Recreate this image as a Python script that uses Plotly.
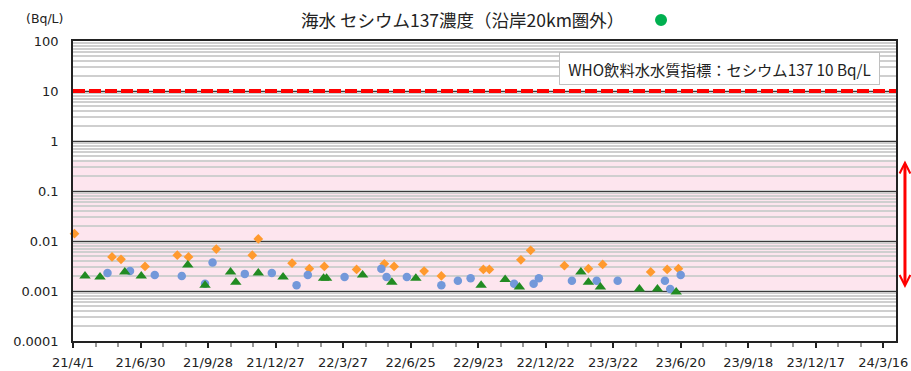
import plotly.graph_objects as go

# Seawater Cs-137 concentration outside the 20 km coastal zone (Bq/L)
orange_dates = ["2021-04-03", "2021-05-23", "2021-06-04", "2021-07-06", "2021-08-18",
                "2021-09-02", "2021-10-09", "2021-11-26", "2021-12-04", "2022-01-18",
                "2022-02-10", "2022-03-02", "2022-04-14", "2022-05-21", "2022-06-03",
                "2022-07-13", "2022-08-05", "2022-09-30", "2022-10-08", "2022-11-19",
                "2022-12-02", "2023-01-16", "2023-02-17", "2023-03-08", "2023-05-11",
                "2023-06-02", "2023-06-17"]
orange_vals = [0.014, 0.0048, 0.0043, 0.0031, 0.0052, 0.0048, 0.0069, 0.0052, 0.011, 0.0036,
               0.0028, 0.0031, 0.0027, 0.0035, 0.0031, 0.0025, 0.0020, 0.0027, 0.0027, 0.0042,
               0.0065, 0.0032, 0.0028, 0.0034, 0.0024, 0.0027, 0.0028]

blue_dates = ["2021-05-17", "2021-06-16", "2021-07-19", "2021-08-24", "2021-09-24",
              "2021-10-04", "2021-11-16", "2021-12-22", "2022-01-24", "2022-02-08",
              "2022-03-29", "2022-05-17", "2022-05-24", "2022-06-20", "2022-08-05",
              "2022-08-27", "2022-09-13", "2022-11-10", "2022-12-06", "2022-12-13",
              "2023-01-26", "2023-02-28", "2023-03-28", "2023-05-30", "2023-06-06",
              "2023-06-20"]
blue_vals = [0.0023, 0.0025, 0.0021, 0.0020, 0.0014, 0.0037, 0.0022, 0.0023, 0.0013, 0.0021,
             0.0019, 0.0028, 0.0019, 0.0019, 0.0013, 0.0016, 0.0018, 0.0014, 0.0014, 0.0018,
             0.0016, 0.0016, 0.0016, 0.0016, 0.0011, 0.0021]

green_dates = ["2021-04-17", "2021-05-07", "2021-06-09", "2021-07-01", "2021-09-01",
               "2021-09-24", "2021-10-28", "2021-11-04", "2021-12-04", "2022-01-06",
               "2022-03-01", "2022-03-05", "2022-04-22", "2022-05-31", "2022-07-02",
               "2022-09-27", "2022-10-29", "2022-11-17", "2023-02-07", "2023-02-17",
               "2023-03-05", "2023-04-26", "2023-05-20", "2023-06-14"]
green_vals = [0.0020, 0.0019, 0.0024, 0.0020, 0.0033, 0.0013, 0.0024, 0.0015, 0.0023, 0.0019,
              0.0018, 0.0018, 0.0021, 0.0015, 0.0018, 0.0013, 0.0017, 0.0012, 0.0024, 0.0015,
              0.0012, 0.0011, 0.0011, 0.00095]

y_tickvals = [0.0001, 0.001, 0.01, 0.1, 1, 10, 100]
y_ticktext = ["0.0001", "0.001", "0.01", "0.1", "1", "10", "100"]

WHO_LIMIT = 10
BAND_LOW, BAND_HIGH = 0.001, 0.42

TITLE = "海水 セシウム137濃度（沿岸20km圏外）"
LEGEND_TEXT = "WHO飲料水水質指標：セシウム137 10 Bq/L"

NUM_FONT = "DejaVu Sans"
JP_FONT = "Noto Sans CJK JP"
DAY_MS = 86400000

fig = go.Figure()

fig.add_trace(go.Scatter(x=orange_dates, y=orange_vals, mode="markers", cliponaxis=False,
                         marker=dict(symbol="diamond", size=7.5, color="#FF9A2E")))
fig.add_trace(go.Scatter(x=blue_dates, y=blue_vals, mode="markers", cliponaxis=False,
                         marker=dict(symbol="circle", size=8.5, color="#7398DA")))
fig.add_trace(go.Scatter(x=green_dates, y=green_vals, mode="markers", cliponaxis=False,
                         marker=dict(symbol="triangle-up", size=10, color="#228B22")))

# pink reference band, tinting the gridlines beneath it
fig.add_shape(type="rect", xref="paper", x0=0, x1=1, yref="y", y0=BAND_LOW, y1=BAND_HIGH,
              fillcolor="rgba(250,170,200,0.30)", line_width=0, layer="between")

# WHO guideline line
fig.add_shape(type="line", xref="paper", x0=0, x1=1, yref="y", y0=WHO_LIMIT, y1=WHO_LIMIT,
              line=dict(color="#FF0000", width=4, dash="12px,4px"))

# green dot beside the title
fig.add_shape(type="circle", xref="paper", yref="paper", xsizemode="pixel", ysizemode="pixel",
              xanchor=0.7145, yanchor=1.07, x0=-6, x1=6, y0=-6, y1=6,
              fillcolor="#00B050", line_width=0)

fig.add_annotation(text=TITLE, xref="paper", yref="paper", x=0.4727, y=1.07,
                   showarrow=False, xanchor="center", yanchor="middle",
                   font=dict(family=JP_FONT, size=17.5, color="#222"))

fig.add_annotation(text="(Bq/L)", xref="paper", yref="paper", x=-0.0352, y=1.075,
                   showarrow=False, xanchor="center", yanchor="middle",
                   font=dict(family=NUM_FONT, size=12.5, color="#222"))

fig.add_annotation(text=LEGEND_TEXT, xref="paper", yref="paper", x=0.7855, y=0.908,
                   showarrow=False, xanchor="center", yanchor="middle",
                   width=313, height=25, borderpad=3, borderwidth=1,
                   bordercolor="#C0C0C0", bgcolor="#FFFFFF",
                   font=dict(family=JP_FONT, size=15.3, color="#222"))

# double-headed red arrow spanning the band
fig.add_annotation(text="", xref="paper", yref="paper", x=1.0109, y=0.1767,
                   ax=0, ay=-129, showarrow=True, arrowside="end+start",
                   arrowhead=5, startarrowhead=5, arrowsize=0.7, startarrowsize=0.7,
                   arrowwidth=3, arrowcolor="#FF0000")

fig.update_layout(
    width=911, height=371,
    margin=dict(l=73, r=15, t=41, b=30, autoexpand=False),
    paper_bgcolor="white", plot_bgcolor="white",
    showlegend=False,
    xaxis=dict(
        type="date", range=["2021-04-01", "2024-04-02"], automargin=False,
        tick0="2021-04-01", dtick=90 * DAY_MS, tickformat="%y/%-m/%-d",
        ticks="outside", ticklen=5, tickwidth=1.5, tickcolor="#222",
        ticklabelstandoff=4,
        showgrid=False, zeroline=False,
        showline=True, linecolor="#222", linewidth=1.5, mirror=True,
        tickfont=dict(family=NUM_FONT, size=13, color="#222"),
        minor=dict(tick0="2021-04-01", dtick=30 * DAY_MS, ticks="outside",
                   ticklen=4, tickcolor="#999", showgrid=False),
    ),
    yaxis=dict(
        type="log", range=[-4, 2], automargin=False,
        tickmode="array", tickvals=y_tickvals, ticktext=y_ticktext,
        ticks="", ticklabelstandoff=10,
        showgrid=True, gridcolor="#3A3A3A", gridwidth=1,
        zeroline=False,
        showline=True, linecolor="#222", linewidth=1.5, mirror=True,
        tickfont=dict(family=NUM_FONT, size=13, color="#222"),
        minor=dict(dtick="D1", showgrid=True, gridcolor="#CFCFCF", gridwidth=1.5),
    ),
)

fig.write_html("out.html")
